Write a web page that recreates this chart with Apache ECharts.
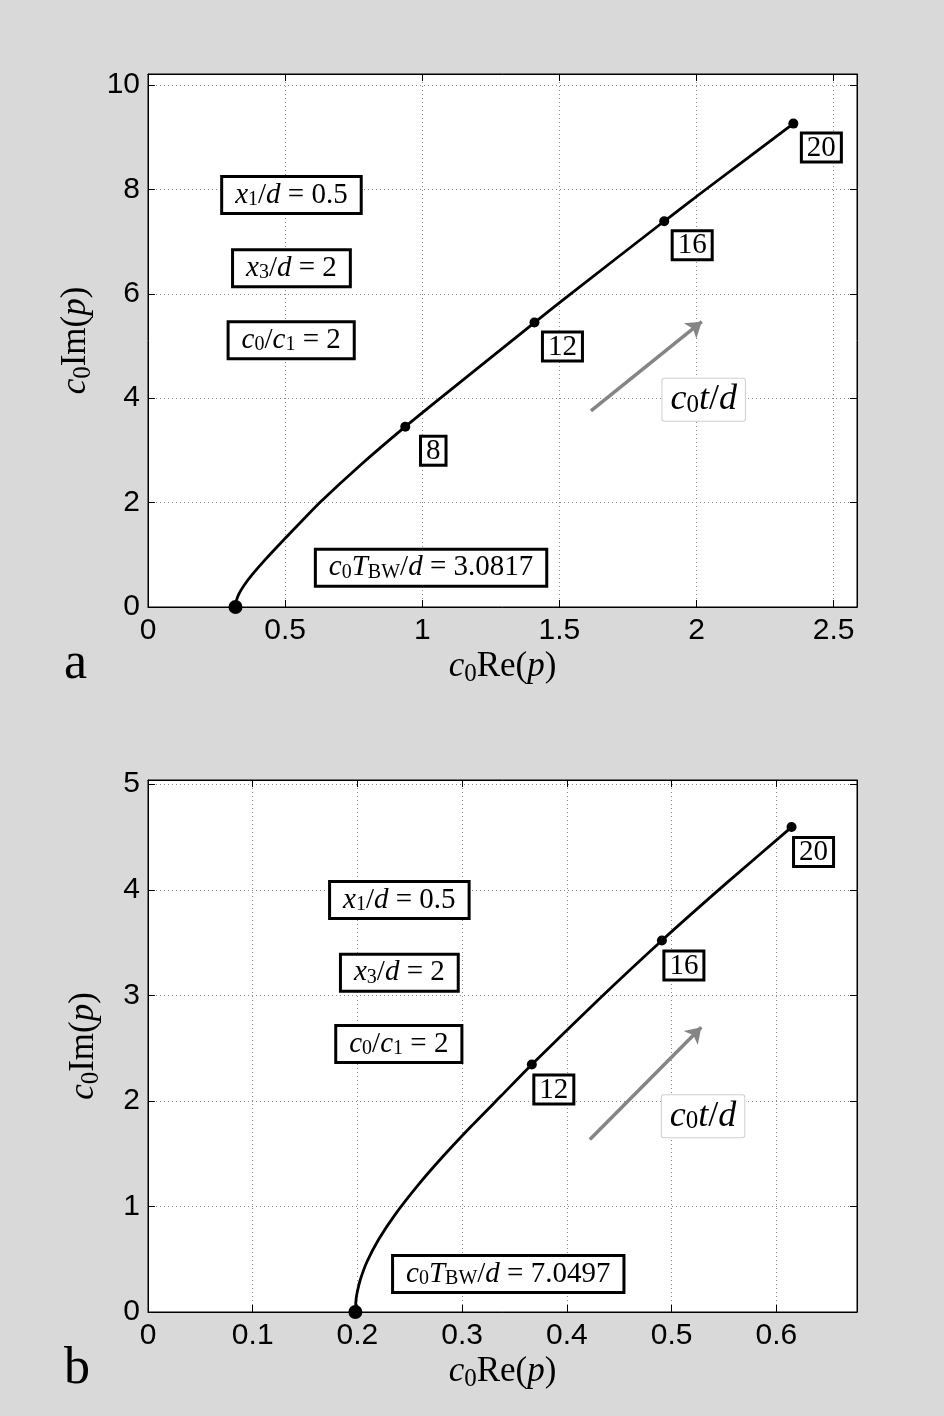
<!DOCTYPE html>
<html><head><meta charset="utf-8">
<script src="https://cdn.jsdelivr.net/npm/echarts@6/dist/echarts.min.js"></script>
<style>html,body{margin:0;padding:0;background:#d9d9d9}#c{width:944px;height:1416px}</style>
</head><body><div id="c"></div><script>
// ---------- data: panel a ----------
const curveAX = [0.319,0.3202,0.3226,0.3311,0.3493,0.3797,0.4282,0.4987,0.5618,0.6285,0.775,0.938,1.066,1.409,1.539,1.882,2.031,2.353];
const curveAY = [0,0.075,0.132,0.246,0.407,0.619,0.913,1.309,1.653,2.011,2.72,3.454,4.002,5.449,5.990,7.389,7.988,9.260];
const dotAT = [8,12,16,20];
const dotAX = [0.938,1.409,1.882,2.353];
const dotAY = [3.454,5.449,7.389,9.260];
const startAX = 0.319, startAY = 0;
const xTicksA = [0,0.5,1,1.5,2,2.5];
const yTicksA = [0,2,4,6,8,10];
const xMaxA = 2.585, yMaxA = 10.21;
const tbwA = '3.0817';
const annAX = [0.523,0.523,0.522,1.032];
const annAY = [7.89,6.49,5.11,0.753];
const ctA = [2.026,3.97];
const arrowA = [[1.615,3.755],[2.019,5.466]];
// ---------- data: panel b ----------
const curveBX = [0.198,0.1986,0.1999,0.2028,0.2091,0.2202,0.2361,0.2567,0.2805,0.3091,0.3377,0.3665,0.4286,0.4907,0.5526,0.6145];
const curveBY = [0,0.112,0.194,0.308,0.476,0.687,0.925,1.188,1.461,1.764,2.053,2.345,2.945,3.520,4.065,4.594];
const dotBT = [12,16,20];
const dotBX = [0.3665,0.4907,0.6145];
const dotBY = [2.345,3.520,4.594];
const startBX = 0.198, startBY = 0;
const xTicksB = [0,0.1,0.2,0.3,0.4,0.5,0.6];
const yTicksB = [0,1,2,3,4,5];
const xMaxB = 0.677, yMaxB = 5.04;
const tbwB = '7.0497';
const annBX = [0.240,0.240,0.2395,0.344];
const annBY = [3.904,3.215,2.538,0.361];
const ctB = [0.530,1.854];
const arrowB = [[0.4219,1.635],[0.5283,2.697]];

const SERIF = '"Liberation Serif", "Times New Roman", serif';
const SANS = '"Liberation Sans", Arial, sans-serif';
const NOB = {textBorderWidth:0, textBorderColor:'transparent', textShadowBlur:0, textShadowColor:'transparent', opacity:1};
function rich(fs, lhf){
  const lh = Math.round(fs*(lhf||1.15));
  return {
    i:Object.assign({fontFamily:SERIF,fontStyle:'italic',fontSize:fs,lineHeight:lh,color:'#000'},NOB),
    r:Object.assign({fontFamily:SERIF,fontSize:fs,lineHeight:lh,color:'#000'},NOB),
    s:Object.assign({fontFamily:SERIF,fontSize:Math.round(fs*0.7),lineHeight:Math.round(fs*0.55),verticalAlign:'bottom',color:'#000'},NOB)
  };
}
function annTexts(tbw){
  return [
    '{i|x}{s|1}{r|/}{i|d}{r| = 0.5}',
    '{i|x}{s|3}{r|/}{i|d}{r| = 2}',
    '{i|c}{s|0}{r|/}{i|c}{s|1}{r| = 2}',
    '{i|c}{s|0}{i|T}{s|BW}{r|/}{i|d}{r| = '+tbw+'}'
  ];
}
const GRIDS = [
  {left:148, top:74, width:709, height:533},
  {left:148, top:780, width:709, height:532}
];
function axesFor(g, xt, yt, xmax, ymax){
  const tickCfg = {show:true, inside:true, length:7, lineStyle:{color:'#000', width:1}};
  const lineCfg = {show:true, onZero:false, lineStyle:{color:'#000', width:1}};
  const split = {show:true, showMinLine:false, showMaxLine:false, lineStyle:{color:'#8a8a8a', width:1, type:[1,3]}};
  const xs = [
    {gridIndex:g, type:'value', position:'bottom', min:xt[0], max:xmax, interval:xt[1]-xt[0],
     axisLine:lineCfg, axisTick:tickCfg, splitLine:split,
     axisLabel:{fontFamily:SANS, fontSize:30, color:'#000', margin:9, showMaxLabel:false},
     name:'{i|c}{s|0}{r|Re(}{i|p}{r|)}', nameLocation:'middle', nameGap:40,
     nameTextStyle:{rich:rich(35)}},
    {gridIndex:g, type:'value', position:'top', min:xt[0], max:xmax, interval:xt[1]-xt[0],
     axisLine:lineCfg, axisTick:tickCfg, splitLine:{show:false}, axisLabel:{show:false}}
  ];
  const ys = [
    {gridIndex:g, type:'value', position:'left', min:yt[0], max:ymax, interval:yt[1]-yt[0],
     axisLine:lineCfg, axisTick:tickCfg, splitLine:split,
     axisLabel:{fontFamily:SANS, fontSize:30, color:'#000', margin:8, showMaxLabel:false},
     name:'{i|c}{s|0}{r|Im(}{i|p}{r|)}', nameLocation:'middle', nameGap:44, nameRotate:90,
     nameTextStyle:{rich:rich(35)}},
    {gridIndex:g, type:'value', position:'right', min:yt[0], max:ymax, interval:yt[1]-yt[0],
     axisLine:lineCfg, axisTick:tickCfg, splitLine:{show:false}, axisLabel:{show:false}}
  ];
  return {xs, ys};
}
function seriesFor(g, cx, cy, dt, dx, dy, sx, sy, annX, annY, tbw, ct, arrow, lblOff){
  const xi = g*2, yi = g*2;
  const texts = annTexts(tbw);
  const boxLabel = Object.assign({show:true, position:'inside', color:'#000', backgroundColor:'#fff',
                    borderColor:'#000', borderWidth:3, padding:[2,12,2,12], rich:rich(29,1.05)}, NOB);
  return [
    {type:'line', xAxisIndex:xi, yAxisIndex:yi, data:cx.map((v,k)=>[v,cy[k]]), smooth:0.2,
     showSymbol:false, symbol:'none', lineStyle:{color:'#000', width:2.8, opacity:1}, z:3, silent:true, clip:false},
    {type:'scatter', xAxisIndex:xi, yAxisIndex:yi, data:dx.map((v,k)=>[v,dy[k],dt[k]]), symbolSize:10,
     itemStyle:{color:'#000', opacity:1}, clip:false, z:4, silent:true,
     label:Object.assign({show:true, position:'inside', offset:lblOff, color:'#000', formatter:p=>'{r|'+p.value[2]+'}',
            backgroundColor:'#fff', borderColor:'#000', borderWidth:3, padding:[1,4,0,4], rich:rich(29,0.85)}, NOB)},
    {type:'scatter', xAxisIndex:xi, yAxisIndex:yi, data:[[sx,sy]], symbolSize:14,
     itemStyle:{color:'#000', opacity:1}, clip:false, z:4, silent:true},
    {type:'scatter', xAxisIndex:xi, yAxisIndex:yi, symbolSize:0, z:5, clip:false, silent:true,
     itemStyle:{opacity:1},
     data:annX.map((v,k)=>({value:[v,annY[k]], label:Object.assign({}, boxLabel, {formatter:texts[k]})}))},
    {type:'lines', coordinateSystem:'cartesian2d', xAxisIndex:xi, yAxisIndex:yi, z:4, silent:true,
     data:[{coords:arrow}], symbol:['none','arrow'], symbolSize:[11,15],
     lineStyle:{color:'#858585', width:3.5, opacity:1}},
    {type:'scatter', xAxisIndex:xi, yAxisIndex:yi, symbolSize:0, z:5, clip:false, silent:true,
     itemStyle:{opacity:1},
     data:[{value:ct, label:Object.assign({show:true, position:'inside', color:'#000', formatter:'{i|c}{s|0}{i|t}{r|/}{i|d}',
       backgroundColor:'#fff', borderColor:'#cfcfcf', borderWidth:1, borderRadius:2, padding:[3,8,3,8], rich:rich(36,1.0)}, NOB)}]}
  ];
}
const a = axesFor(0, xTicksA, yTicksA, xMaxA, yMaxA);
const b = axesFor(1, xTicksB, yTicksB, xMaxB, yMaxB);
const option = {
  backgroundColor:'#d9d9d9',
  animation:false,
  grid: GRIDS.map(g=>Object.assign({show:true, backgroundColor:'#fff', borderColor:'#000', borderWidth:1}, g)),
  xAxis:[...a.xs, ...b.xs],
  yAxis:[...a.ys, ...b.ys],
  series:[
    ...seriesFor(0, curveAX, curveAY, dotAT, dotAX, dotAY, startAX, startAY, annAX, annAY, tbwA, ctA, arrowA, [28,24]),
    ...seriesFor(1, curveBX, curveBY, dotBT, dotBX, dotBY, startBX, startBY, annBX, annBY, tbwB, ctB, arrowB, [22,25])
  ],
  graphic:[
    {type:'text', left:64, top:638, style:{text:'a', font:'52px "Liberation Serif"', fill:'#000'}},
    {type:'text', left:64, top:1343, style:{text:'b', font:'52px "Liberation Serif"', fill:'#000'}}
  ]
};
const chart = echarts.init(document.getElementById('c'), null, {renderer:'canvas'});
chart.setOption(option);
</script></body></html>
